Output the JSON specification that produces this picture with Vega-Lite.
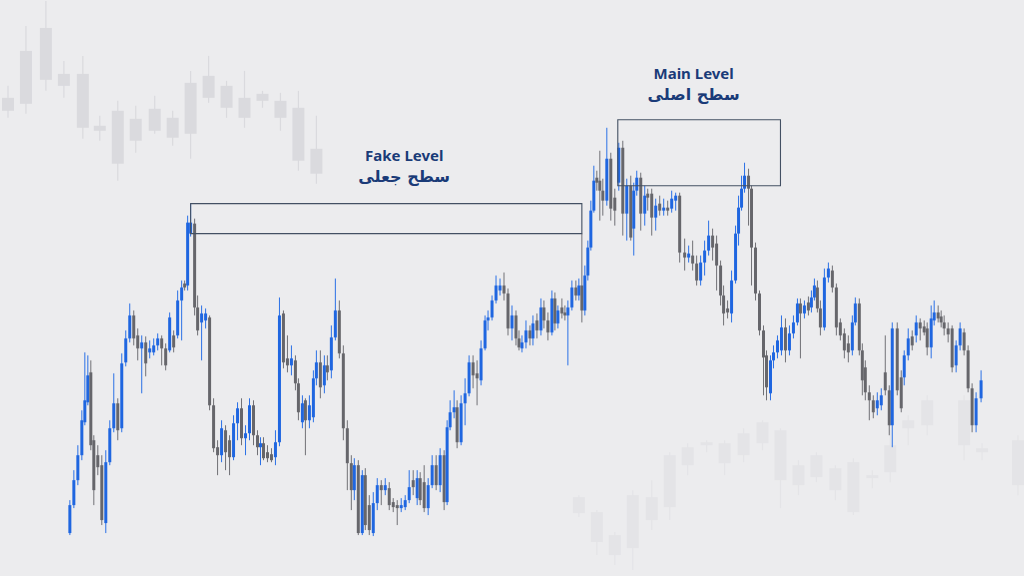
{
"$schema":"https://vega.github.io/schema/vega-lite/v6.json",
"width":1024,"height":576,
"autosize":{"type":"fit","contains":"padding"},
"padding":0,
"background":"#ececee",
"config":{"view":{"stroke":null}},
"datasets":{
"candles":[
{"t":70,"o":43,"c":71,"h":76,"l":41},{"t":74,"o":71,"c":96,"h":106,"l":68},{"t":78,"o":96,"c":121,"h":131,"l":91},{"t":82,"o":121,"c":156,"h":166,"l":116},{"t":85,"o":154,"c":176,"h":224,"l":151},{"t":88,"o":174,"c":201,"h":221,"l":171},{"t":91,"o":204,"c":131,"h":216,"l":126},{"t":94,"o":136,"c":86,"h":141,"l":71},{"t":98,"o":121,"c":109,"h":131,"l":101},{"t":102,"o":111,"c":56,"h":121,"l":51},
{"t":106,"o":53,"c":114,"h":126,"l":43},{"t":110,"o":114,"c":148,"h":156,"l":111},{"t":114,"o":148,"c":173,"h":203,"l":144},{"t":118,"o":173,"c":146,"h":178,"l":136},{"t":122,"o":148,"c":213,"h":223,"l":144},{"t":126,"o":214,"c":238,"h":246,"l":210},{"t":130,"o":238,"c":261,"h":273,"l":234},{"t":134,"o":261,"c":238,"h":266,"l":231},{"t":138,"o":241,"c":228,"h":248,"l":216},{"t":142,"o":228,"c":234,"h":241,"l":183},
{"t":146,"o":234,"c":213,"h":240,"l":200},{"t":150,"o":224,"c":228,"h":236,"l":218},{"t":154,"o":224,"c":231,"h":238,"l":221},{"t":158,"o":231,"c":238,"h":243,"l":226},{"t":162,"o":238,"c":228,"h":241,"l":211},{"t":166,"o":228,"c":211,"h":233,"l":206},{"t":170,"o":226,"c":259,"h":264,"l":224},{"t":174,"o":241,"c":229,"h":246,"l":224},{"t":178,"o":241,"c":276,"h":286,"l":238},{"t":182,"o":276,"c":289,"h":296,"l":236},
{"t":185,"o":293,"c":289,"h":296,"l":286},{"t":188,"o":291,"c":354,"h":361,"l":286},{"t":191,"o":343,"c":354,"h":373,"l":340},{"t":195,"o":353,"c":269,"h":358,"l":261},{"t":198,"o":269,"c":246,"h":281,"l":241},{"t":202,"o":254,"c":263,"h":271,"l":216},{"t":206,"o":256,"c":263,"h":268,"l":248},{"t":210,"o":259,"c":171,"h":261,"l":166},{"t":214,"o":171,"c":128,"h":178,"l":124},{"t":218,"o":129,"c":121,"h":136,"l":101},
{"t":222,"o":121,"c":148,"h":156,"l":114},{"t":226,"o":146,"c":124,"h":151,"l":106},{"t":230,"o":136,"c":119,"h":141,"l":101},{"t":234,"o":119,"c":153,"h":161,"l":116},{"t":238,"o":153,"c":168,"h":174,"l":136},{"t":242,"o":168,"c":138,"h":178,"l":131},{"t":246,"o":138,"c":143,"h":151,"l":121},{"t":250,"o":143,"c":171,"h":178,"l":136},{"t":254,"o":171,"c":141,"h":176,"l":131},{"t":258,"o":141,"c":129,"h":146,"l":121},
{"t":261,"o":129,"c":133,"h":139,"l":111},{"t":264,"o":133,"c":118,"h":139,"l":116},{"t":268,"o":124,"c":118,"h":131,"l":114},{"t":272,"o":122,"c":116,"h":128,"l":114},{"t":276,"o":119,"c":134,"h":146,"l":111},{"t":280,"o":134,"c":261,"h":279,"l":130},{"t":284,"o":263,"c":214,"h":266,"l":208},{"t":288,"o":218,"c":211,"h":241,"l":204},{"t":292,"o":211,"c":218,"h":231,"l":201},{"t":296,"o":216,"c":193,"h":221,"l":186},
{"t":299,"o":193,"c":164,"h":198,"l":156},{"t":303,"o":154,"c":173,"h":181,"l":148},{"t":306,"o":176,"c":156,"h":178,"l":121},{"t":310,"o":156,"c":171,"h":181,"l":148},{"t":314,"o":159,"c":198,"h":206,"l":154},{"t":317,"o":198,"c":214,"h":226,"l":191},{"t":321,"o":214,"c":189,"h":226,"l":178},{"t":325,"o":191,"c":211,"h":221,"l":183},{"t":328,"o":211,"c":204,"h":221,"l":196},{"t":332,"o":206,"c":239,"h":251,"l":198},
{"t":336,"o":239,"c":266,"h":298,"l":236},{"t":340,"o":266,"c":223,"h":276,"l":218},{"t":344,"o":223,"c":148,"h":231,"l":136},{"t":348,"o":148,"c":113,"h":156,"l":86},{"t":352,"o":113,"c":86,"h":121,"l":66},{"t":355,"o":86,"c":111,"h":118,"l":76},{"t":359,"o":111,"c":43,"h":116,"l":41},{"t":363,"o":43,"c":101,"h":106,"l":41},{"t":366,"o":101,"c":51,"h":108,"l":46},{"t":370,"o":71,"c":46,"h":81,"l":41},
{"t":374,"o":43,"c":73,"h":84,"l":40},{"t":378,"o":73,"c":91,"h":98,"l":66},{"t":382,"o":91,"c":86,"h":96,"l":71},{"t":386,"o":86,"c":91,"h":98,"l":81},{"t":390,"o":88,"c":71,"h":94,"l":66},{"t":394,"o":74,"c":69,"h":78,"l":64},{"t":398,"o":71,"c":68,"h":76,"l":51},{"t":402,"o":68,"c":71,"h":78,"l":64},{"t":406,"o":69,"c":76,"h":81,"l":66},{"t":410,"o":76,"c":89,"h":106,"l":73},
{"t":414,"o":96,"c":89,"h":106,"l":81},{"t":418,"o":78,"c":98,"h":106,"l":71},{"t":421,"o":98,"c":76,"h":104,"l":71},{"t":425,"o":94,"c":68,"h":111,"l":64},{"t":429,"o":68,"c":91,"h":98,"l":61},{"t":433,"o":91,"c":111,"h":121,"l":88},{"t":437,"o":111,"c":91,"h":121,"l":86},{"t":441,"o":91,"c":121,"h":128,"l":84},{"t":445,"o":121,"c":74,"h":126,"l":66},{"t":448,"o":74,"c":149,"h":156,"l":71},
{"t":451,"o":149,"c":164,"h":176,"l":146},{"t":455,"o":164,"c":169,"h":186,"l":158},{"t":458,"o":169,"c":134,"h":176,"l":128},{"t":462,"o":134,"c":173,"h":181,"l":131},{"t":466,"o":173,"c":183,"h":198,"l":151},{"t":470,"o":183,"c":214,"h":221,"l":180},{"t":474,"o":214,"c":201,"h":221,"l":188},{"t":478,"o":203,"c":198,"h":216,"l":171},{"t":482,"o":196,"c":228,"h":236,"l":191},{"t":486,"o":228,"c":256,"h":261,"l":226},
{"t":489,"o":256,"c":259,"h":266,"l":246},{"t":493,"o":259,"c":276,"h":281,"l":256},{"t":497,"o":276,"c":291,"h":301,"l":273},{"t":501,"o":286,"c":291,"h":298,"l":281},{"t":505,"o":291,"c":283,"h":304,"l":276},{"t":509,"o":283,"c":248,"h":288,"l":241},{"t":513,"o":248,"c":261,"h":271,"l":236},{"t":517,"o":261,"c":238,"h":266,"l":231},{"t":520,"o":238,"c":229,"h":246,"l":226},{"t":523,"o":228,"c":234,"h":241,"l":224},
{"t":527,"o":234,"c":246,"h":256,"l":228},{"t":531,"o":246,"c":238,"h":251,"l":231},{"t":534,"o":238,"c":253,"h":261,"l":231},{"t":538,"o":256,"c":246,"h":263,"l":238},{"t":542,"o":246,"c":269,"h":278,"l":241},{"t":545,"o":269,"c":256,"h":276,"l":248},{"t":549,"o":256,"c":244,"h":264,"l":236},{"t":553,"o":244,"c":278,"h":286,"l":241},{"t":556,"o":278,"c":253,"h":284,"l":246},{"t":559,"o":253,"c":266,"h":271,"l":248},
{"t":563,"o":269,"c":263,"h":278,"l":258},{"t":566,"o":264,"c":261,"h":271,"l":256},{"t":569,"o":261,"c":269,"h":276,"l":211},{"t":573,"o":269,"c":289,"h":296,"l":266},{"t":577,"o":289,"c":281,"h":296,"l":276},{"t":580,"o":281,"c":291,"h":298,"l":276},{"t":583,"o":291,"c":266,"h":343,"l":254},{"t":586,"o":266,"c":301,"h":311,"l":261},{"t":589,"o":301,"c":329,"h":336,"l":296},{"t":592,"o":329,"c":366,"h":376,"l":326},
{"t":595,"o":366,"c":396,"h":411,"l":364},{"t":598,"o":399,"c":394,"h":406,"l":386},{"t":601,"o":396,"c":386,"h":426,"l":356},{"t":604,"o":386,"c":376,"h":398,"l":361},{"t":608,"o":376,"c":418,"h":449,"l":371},{"t":612,"o":418,"c":368,"h":424,"l":356},{"t":616,"o":379,"c":366,"h":388,"l":351},{"t":620,"o":394,"c":429,"h":434,"l":386},{"t":624,"o":429,"c":363,"h":436,"l":341},{"t":628,"o":363,"c":391,"h":398,"l":336},
{"t":632,"o":391,"c":339,"h":401,"l":336},{"t":635,"o":348,"c":386,"h":394,"l":321},{"t":638,"o":386,"c":399,"h":406,"l":381},{"t":642,"o":399,"c":363,"h":404,"l":346},{"t":646,"o":363,"c":381,"h":391,"l":351},{"t":649,"o":383,"c":379,"h":388,"l":366},{"t":653,"o":383,"c":359,"h":388,"l":341},{"t":657,"o":359,"c":371,"h":378,"l":346},{"t":661,"o":373,"c":366,"h":381,"l":361},{"t":665,"o":366,"c":369,"h":378,"l":361},
{"t":669,"o":369,"c":366,"h":376,"l":361},{"t":673,"o":368,"c":378,"h":386,"l":364},{"t":677,"o":376,"c":381,"h":384,"l":366},{"t":681,"o":381,"c":324,"h":384,"l":314},{"t":686,"o":324,"c":319,"h":338,"l":306},{"t":690,"o":319,"c":323,"h":331,"l":314},{"t":694,"o":321,"c":313,"h":336,"l":306},{"t":698,"o":313,"c":296,"h":321,"l":291},{"t":702,"o":296,"c":314,"h":321,"l":291},{"t":706,"o":314,"c":326,"h":336,"l":301},
{"t":710,"o":326,"c":341,"h":356,"l":321},{"t":714,"o":341,"c":329,"h":348,"l":316},{"t":718,"o":333,"c":311,"h":341,"l":286},{"t":722,"o":311,"c":281,"h":316,"l":271},{"t":725,"o":281,"c":263,"h":291,"l":251},{"t":729,"o":268,"c":264,"h":276,"l":258},{"t":733,"o":263,"c":296,"h":306,"l":254},{"t":737,"o":296,"c":343,"h":351,"l":293},{"t":740,"o":343,"c":369,"h":381,"l":331},{"t":743,"o":369,"c":388,"h":401,"l":366},
{"t":746,"o":388,"c":401,"h":414,"l":384},{"t":750,"o":401,"c":388,"h":408,"l":351},{"t":753,"o":388,"c":329,"h":391,"l":291},{"t":757,"o":329,"c":283,"h":334,"l":276},{"t":761,"o":283,"c":246,"h":286,"l":241},{"t":765,"o":246,"c":219,"h":251,"l":181},{"t":768,"o":221,"c":189,"h":226,"l":176},{"t":772,"o":183,"c":216,"h":221,"l":176},{"t":775,"o":216,"c":224,"h":231,"l":208},{"t":779,"o":224,"c":236,"h":241,"l":218},
{"t":783,"o":226,"c":249,"h":261,"l":221},{"t":787,"o":249,"c":226,"h":258,"l":214},{"t":791,"o":226,"c":243,"h":251,"l":221},{"t":795,"o":243,"c":254,"h":261,"l":238},{"t":799,"o":254,"c":273,"h":278,"l":251},{"t":802,"o":273,"c":263,"h":278,"l":218},{"t":806,"o":263,"c":271,"h":276,"l":258},{"t":810,"o":274,"c":266,"h":280,"l":261},{"t":813,"o":269,"c":279,"h":286,"l":264},{"t":816,"o":279,"c":291,"h":298,"l":276},
{"t":819,"o":289,"c":268,"h":296,"l":264},{"t":822,"o":268,"c":249,"h":276,"l":241},{"t":826,"o":249,"c":299,"h":308,"l":246},{"t":830,"o":299,"c":308,"h":314,"l":294},{"t":834,"o":306,"c":289,"h":311,"l":284},{"t":838,"o":289,"c":249,"h":293,"l":241},{"t":842,"o":254,"c":241,"h":258,"l":236},{"t":846,"o":243,"c":226,"h":248,"l":218},{"t":850,"o":233,"c":224,"h":241,"l":214},{"t":854,"o":226,"c":254,"h":261,"l":221},
{"t":857,"o":254,"c":273,"h":279,"l":251},{"t":861,"o":273,"c":226,"h":278,"l":221},{"t":864,"o":226,"c":196,"h":233,"l":181},{"t":867,"o":209,"c":184,"h":216,"l":176},{"t":871,"o":184,"c":176,"h":191,"l":156},{"t":875,"o":176,"c":164,"h":181,"l":158},{"t":879,"o":168,"c":176,"h":184,"l":161},{"t":883,"o":171,"c":181,"h":188,"l":166},{"t":887,"o":204,"c":186,"h":241,"l":181},{"t":891,"o":186,"c":151,"h":191,"l":141},
{"t":894,"o":151,"c":248,"h":254,"l":129},{"t":899,"o":248,"c":186,"h":254,"l":181},{"t":903,"o":199,"c":168,"h":206,"l":164},{"t":906,"o":199,"c":221,"h":226,"l":191},{"t":910,"o":221,"c":238,"h":248,"l":216},{"t":914,"o":240,"c":231,"h":246,"l":226},{"t":918,"o":241,"c":254,"h":261,"l":234},{"t":922,"o":254,"c":248,"h":258,"l":236},{"t":926,"o":250,"c":244,"h":256,"l":241},{"t":929,"o":248,"c":229,"h":254,"l":221},
{"t":933,"o":229,"c":258,"h":271,"l":218},{"t":936,"o":256,"c":264,"h":276,"l":251},{"t":940,"o":264,"c":258,"h":271,"l":254},{"t":943,"o":260,"c":254,"h":266,"l":249},{"t":946,"o":254,"c":248,"h":261,"l":241},{"t":950,"o":248,"c":242,"h":254,"l":234},{"t":954,"o":248,"c":209,"h":251,"l":204},{"t":958,"o":211,"c":231,"h":236,"l":204},{"t":962,"o":231,"c":248,"h":254,"l":226},{"t":966,"o":244,"c":226,"h":248,"l":221},
{"t":970,"o":226,"c":188,"h":231,"l":184},{"t":974,"o":188,"c":151,"h":193,"l":144},{"t":978,"o":151,"c":178,"h":184,"l":144},{"t":983,"o":178,"c":196,"h":206,"l":174}
],
"ghosts":[
{"g":"tl","t":8,"o":466,"c":479,"h":491,"l":459},{"g":"tl","t":26,"o":473,"c":526,"h":551,"l":463},{"g":"tl","t":46,"o":497,"c":549,"h":576,"l":486},{"g":"tl","t":64,"o":491,"c":503,"h":516,"l":479},{"g":"tl","t":83,"o":449,"c":503,"h":521,"l":438},{"g":"tl","t":100,"o":446,"c":451,"h":461,"l":436},{"g":"tl","t":118,"o":413,"c":466,"h":476,"l":396},{"g":"tl","t":136,"o":436,"c":458,"h":471,"l":424},{"g":"tl","t":155,"o":446,"c":468,"h":481,"l":443},{"g":"tl","t":173,"o":439,"c":459,"h":466,"l":431},{"g":"tl","t":191,"o":443,"c":494,"h":506,"l":418},{"g":"tl","t":209,"o":479,"c":501,"h":521,"l":474},{"g":"tl","t":227,"o":469,"c":491,"h":496,"l":459},{"g":"tl","t":245,"o":459,"c":479,"h":506,"l":449},{"g":"tl","t":263,"o":476,"c":483,"h":486,"l":469},{"g":"tl","t":281,"o":459,"c":476,"h":484,"l":446},{"g":"tl","t":299,"o":416,"c":469,"h":486,"l":406},{"g":"tl","t":317,"o":403,"c":428,"h":461,"l":393},
{"g":"br","t":580,"o":63,"c":79,"h":81,"l":59},{"g":"br","t":598,"o":34,"c":64,"h":66,"l":21},{"g":"br","t":616,"o":21,"c":41,"h":44,"l":11},{"g":"br","t":634,"o":28,"c":81,"h":86,"l":6},{"g":"br","t":653,"o":56,"c":79,"h":96,"l":46},{"g":"br","t":671,"o":69,"c":121,"h":124,"l":56},{"g":"br","t":689,"o":111,"c":129,"h":133,"l":101},{"g":"br","t":708,"o":131,"c":134,"h":136,"l":124},{"g":"br","t":726,"o":113,"c":133,"h":136,"l":101},{"g":"br","t":745,"o":121,"c":143,"h":148,"l":114},{"g":"br","t":764,"o":133,"c":154,"h":156,"l":126},{"g":"br","t":782,"o":96,"c":146,"h":148,"l":68},{"g":"br","t":800,"o":91,"c":111,"h":116,"l":81},{"g":"br","t":818,"o":99,"c":121,"h":124,"l":94},{"g":"br","t":837,"o":86,"c":108,"h":111,"l":76},{"g":"br","t":855,"o":64,"c":114,"h":118,"l":61},{"g":"br","t":874,"o":98,"c":101,"h":106,"l":88},{"g":"br","t":892,"o":104,"c":131,"h":146,"l":94},{"g":"br","t":910,"o":148,"c":156,"h":161,"l":131},{"g":"br","t":929,"o":151,"c":176,"h":181,"l":141},{"g":"br","t":966,"o":131,"c":176,"h":181,"l":116},{"g":"br","t":984,"o":124,"c":128,"h":133,"l":116},{"g":"br","t":1020,"o":91,"c":136,"h":141,"l":81}
],
"levels":[
{"name":"Fake Level","t1":191,"t2":583,"p1":343,"p2":373},
{"name":"Main Level","t1":619,"t2":782,"p1":391,"p2":457}
],
"labels":[
{"lang":"en","txt":"Fake Level","t":405,"p":421},
{"lang":"fa","txt":"سطح جعلی","t":405,"p":400},
{"lang":"en","txt":"Main Level","t":695,"p":503},
{"lang":"fa","txt":"سطح اصلی","t":695,"p":482}
]
},
"layer":[
{"data":{"name":"ghosts"},"mark":{"type":"rule","strokeWidth":1.2},
 "encoding":{"x":{"field":"t","type":"quantitative","scale":{"domain":[0,1024],"nice":false,"zero":false,"padding":0},"axis":null},
 "y":{"field":"l","type":"quantitative","scale":{"domain":[0,576],"nice":false,"zero":false,"padding":0},"axis":null},"y2":{"field":"h"},
 "color":{"field":"g","type":"nominal","scale":{"domain":["tl","br"],"range":["#dadade","#e4e4e7"]},"legend":null}}},
{"data":{"name":"ghosts"},"mark":{"type":"bar","size":12},
 "encoding":{"x":{"field":"t","type":"quantitative"},"y":{"field":"o","type":"quantitative"},"y2":{"field":"c"},
 "color":{"field":"g","type":"nominal","legend":null}}},
{"mark":{"type":"rule","color":"#a9a9ae","strokeDash":[1,2],"strokeWidth":1},
 "encoding":{"x":{"datum":0,"type":"quantitative"},"x2":{"datum":985},"y":{"datum":53,"type":"quantitative"}}},
{"data":{"name":"candles"},"mark":{"type":"rule","strokeWidth":1},
 "encoding":{"x":{"field":"t","type":"quantitative"},"y":{"field":"l","type":"quantitative"},"y2":{"field":"h"},
 "color":{"condition":{"test":"datum.c >= datum.o","value":"#2a70e6"},"value":"#707075"}}},
{"data":{"name":"candles"},"mark":{"type":"bar","size":3},
 "encoding":{"x":{"field":"t","type":"quantitative"},"y":{"field":"o","type":"quantitative"},"y2":{"field":"c"},
 "color":{"condition":{"test":"datum.c >= datum.o","value":"#1f66e0"},"value":"#66666b"}}},
{"data":{"name":"levels"},"mark":{"type":"rect","fill":"transparent","stroke":"#435063","strokeWidth":1.1},
 "encoding":{"x":{"field":"t1","type":"quantitative"},"x2":{"field":"t2"},"y":{"field":"p1","type":"quantitative"},"y2":{"field":"p2"}}},
{"data":{"name":"labels"},"transform":[{"filter":"datum.lang == 'en'"}],
 "mark":{"type":"text","font":"Noto Sans","fontWeight":"bold","fontSize":15,"color":"#1a3b78","align":"center","baseline":"middle","letterSpacing":-0.6},
 "encoding":{"x":{"field":"t","type":"quantitative"},"y":{"field":"p","type":"quantitative"},"text":{"field":"txt"}}},
{"data":{"name":"labels"},"transform":[{"filter":"datum.lang == 'fa'"}],
 "mark":{"type":"text","font":"DejaVu Sans","fontWeight":"bold","fontSize":16,"color":"#1a3b78","align":"center","baseline":"middle"},
 "encoding":{"x":{"field":"t","type":"quantitative"},"y":{"field":"p","type":"quantitative"},"text":{"field":"txt"}}}
]
}
